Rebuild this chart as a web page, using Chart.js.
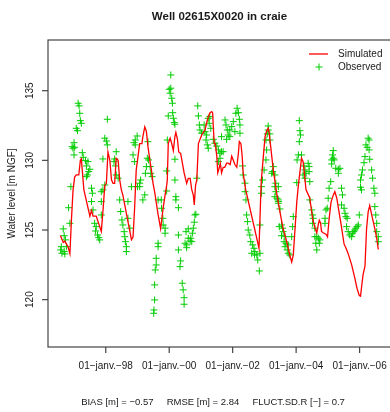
<!DOCTYPE html>
<html>
<head>
<meta charset="utf-8">
<title>Well 02615X0020 in craie</title>
<script src="https://cdn.jsdelivr.net/npm/chart.js@4.4.0/dist/chart.umd.min.js"></script>
<style>
    html, body { margin: 0; padding: 0; background: #fff; overflow: hidden; }
    canvas { display: block; }
</style>
</head>
<body>
<canvas id="well-chart" width="392" height="412"></canvas>
<script>
// Chart data (decimal years / water level in m NGF)

const chartTitle = 'Well 02615X0020 in craie';
const yAxisTitle = 'Water level [m NGF]';
const statsText = 'BIAS [m] = \u22120.57     RMSE [m] = 2.84     FLUCT.SD.R [\u2212] = 0.7';
const seriesNames = ['Simulated', 'Observed'];

const xTickValues = [1998, 2000, 2002, 2004, 2006];
const xTickLabels = ['01\u2212janv.\u221298', '01\u2212janv.\u221200', '01\u2212janv.\u221202', '01\u2212janv.\u221204', '01\u2212janv.\u221206'];
const yTickValues = [120, 125, 130, 135];
const xRange = [1996.18, 2006.99];
const yRange = [116.6, 138.64];

const simulated = [
    [1996.57, 124.6], [1996.66, 124.1], [1996.71, 124.2], [1996.76, 124.0], [1996.81, 123.8], [1996.87, 123.3],
    [1996.92, 125.8], [1996.97, 127.9], [1997.02, 128.8], [1997.07, 128.95], [1997.15, 128.95], [1997.20, 130.0],
    [1997.23, 130.1], [1997.26, 129.3], [1997.31, 127.9], [1997.50, 126.0], [1997.55, 126.4], [1997.60, 126.0],
    [1997.70, 126.0], [1997.86, 124.9], [1997.91, 126.3], [1997.97, 128.2], [1998.02, 128.35], [1998.07, 130.6],
    [1998.13, 130.0], [1998.18, 128.6], [1998.23, 128.35], [1998.28, 128.35], [1998.33, 130.15], [1998.39, 130.0],
    [1998.44, 128.6], [1998.49, 127.9], [1998.54, 127.5], [1998.70, 125.6], [1998.81, 124.3], [1998.86, 124.5],
    [1998.91, 126.6], [1998.96, 129.3], [1999.07, 131.2], [1999.14, 131.2], [1999.17, 131.7], [1999.23, 132.4],
    [1999.28, 132.1], [1999.33, 131.0], [1999.39, 130.0], [1999.44, 129.3], [1999.49, 128.35], [1999.54, 127.75],
    [1999.65, 126.1], [1999.73, 125.1], [1999.81, 126.6], [1999.87, 127.5], [1999.92, 128.2], [1999.94, 128.6],
    [1999.97, 131.2], [2000.03, 131.6], [2000.08, 131.2], [2000.13, 130.7], [2000.18, 131.7], [2000.21, 132.0],
    [2000.26, 131.5], [2000.30, 130.6], [2000.36, 130.5], [2000.40, 130.0], [2000.47, 129.1], [2000.55, 128.35],
    [2000.60, 128.7], [2000.66, 128.7], [2000.71, 127.9], [2000.76, 127.5], [2000.79, 126.8], [2000.83, 128.2],
    [2000.87, 128.6], [2000.92, 131.2], [2001.02, 131.8], [2001.13, 132.2], [2001.18, 132.7], [2001.23, 133.1],
    [2001.28, 133.4], [2001.34, 133.5], [2001.37, 133.4], [2001.39, 132.4], [2001.42, 131.2], [2001.45, 131.2],
    [2001.50, 130.3], [2001.53, 129.1], [2001.57, 129.4], [2001.61, 129.8], [2001.65, 129.1], [2001.70, 129.5],
    [2001.75, 129.5], [2001.81, 129.8], [2001.86, 129.8], [2001.92, 129.7], [2001.97, 130.3], [2002.02, 130.0],
    [2002.07, 129.7], [2002.13, 129.5], [2002.18, 130.5], [2002.21, 131.35], [2002.26, 131.2], [2002.30, 130.3],
    [2002.33, 129.1], [2002.41, 127.9], [2002.83, 123.7], [2002.90, 128.5], [2003.02, 131.7], [2003.07, 132.1],
    [2003.12, 132.3], [2003.15, 131.95], [2003.21, 130.75], [2003.28, 129.3], [2003.39, 127.6], [2003.49, 126.3],
    [2003.59, 125.1], [2003.70, 124.2], [2003.80, 123.2], [2003.86, 122.7], [2003.91, 123.2], [2003.96, 124.9],
    [2004.02, 127.0], [2004.07, 128.2], [2004.17, 130.15], [2004.22, 129.9], [2004.26, 129.1], [2004.31, 127.9],
    [2004.43, 127.3], [2004.52, 125.8], [2004.59, 125.2], [2004.65, 124.8], [2004.70, 125.4], [2004.73, 125.7],
    [2004.77, 125.5], [2004.80, 124.9], [2004.85, 124.8], [2004.94, 124.7], [2004.99, 124.5], [2005.04, 125.8],
    [2005.10, 127.0], [2005.17, 127.5], [2005.22, 127.75], [2005.28, 127.3], [2005.33, 126.6], [2005.43, 125.2],
    [2005.51, 124.0], [2005.59, 123.6], [2005.64, 123.3], [2005.75, 122.5], [2005.85, 121.55], [2005.92, 120.8],
    [2005.99, 120.3], [2006.03, 120.25], [2006.07, 121.05], [2006.11, 121.8], [2006.17, 122.4], [2006.22, 125.1],
    [2006.27, 126.3], [2006.32, 126.75], [2006.38, 126.1], [2006.43, 125.6], [2006.48, 125.1], [2006.54, 124.4],
    [2006.59, 123.6]
];

const observed = [
    // 1996-97
    [1996.90, 128.11], [1996.83, 126.60], [1996.87, 125.48], [1996.66, 125.08], [1996.69, 124.59], [1996.73, 124.29],
    [1996.60, 123.80], [1996.58, 123.57], [1996.69, 123.45], [1996.62, 123.33], [1996.76, 123.80], [1996.71, 123.28],
    [1997.13, 134.10], [1997.16, 133.91], [1997.18, 133.38], [1997.20, 132.85], [1997.23, 132.66], [1997.07, 132.30],
    [1997.11, 132.13], [1997.00, 131.27], [1996.94, 130.98], [1996.97, 130.87], [1997.02, 130.94], [1997.00, 130.39],
    [1997.26, 130.55], [1997.29, 130.22], [1997.36, 129.98], [1997.44, 129.91], [1997.39, 129.60], [1997.50, 129.36],
    [1997.46, 129.19], [1997.42, 128.95], [1997.39, 128.83], [1997.55, 128.00], [1997.58, 127.64], [1997.55, 127.04],
    [1997.60, 126.44], [1997.65, 125.48], [1997.70, 125.24], [1997.68, 124.93], [1997.74, 124.64], [1997.78, 124.45],
    [1997.81, 124.29], [1997.86, 127.04], [1997.86, 127.75], [1997.91, 127.88], [1997.86, 126.08],
    // 1998
    [1998.05, 132.95], [1997.97, 131.59], [1998.02, 131.39], [1998.05, 131.11], [1997.91, 130.10], [1998.28, 130.10],
    [1998.33, 130.62], [1998.26, 129.91], [1998.31, 129.60], [1998.33, 128.95], [1998.39, 128.72], [1997.97, 128.23],
    [1998.44, 127.16], [1998.47, 126.32], [1998.51, 125.72], [1998.54, 125.36], [1998.58, 124.88], [1998.60, 124.52],
    [1998.62, 124.16], [1998.65, 123.80], [1998.65, 123.45], [1998.70, 127.04], [1998.70, 125.84], [1998.76, 125.13],
    // 1999
    [1998.81, 128.11], [1998.99, 131.75], [1998.93, 131.46], [1998.89, 131.27], [1998.93, 131.11], [1999.33, 131.34],
    [1998.86, 130.39], [1998.91, 129.91], [1999.31, 130.15], [1999.35, 130.03], [1999.28, 129.55], [1999.40, 129.55],
    [1999.25, 129.07], [1999.42, 129.07], [1999.46, 128.83], [1999.10, 128.59], [1999.07, 128.36], [1999.00, 128.11],
    [1999.07, 128.11], [1999.17, 127.16], [1999.23, 127.52],
    [1999.65, 127.16], [1999.75, 127.16], [1999.76, 126.56], [1999.80, 125.84], [1999.81, 125.36], [1999.87, 125.13],
    [1999.87, 124.77], [1999.65, 124.05], [1999.65, 123.80], [1999.59, 122.97], [1999.59, 122.49], [1999.56, 122.13],
    [1999.54, 121.06], [1999.54, 119.98], [1999.52, 119.26], [1999.51, 119.02], [1999.92, 127.80],
    // 2000
    [2000.05, 136.13], [2000.00, 135.10], [2000.05, 135.18], [2000.03, 134.82], [2000.08, 134.46], [2000.10, 134.10],
    [2000.11, 133.42], [2000.13, 133.02], [2000.16, 132.71], [2000.18, 132.59], [1999.97, 133.19], [1999.94, 131.46],
    [2000.18, 130.08], [2000.18, 128.59], [1999.92, 129.24],
    [2000.21, 127.39], [2000.21, 127.16], [2000.29, 126.60], [2000.29, 124.64], [2000.29, 123.57], [2000.36, 122.78],
    [2000.34, 122.37], [2000.41, 121.18], [2000.44, 120.70], [2000.47, 120.14], [2000.47, 119.67],
    [2000.81, 126.08], [2000.84, 126.13], [2000.79, 125.56], [2000.76, 125.13], [2000.73, 124.77], [2000.68, 124.41],
    [2000.66, 124.21], [2000.60, 124.41], [2000.53, 124.88], [2000.60, 125.08], [2000.55, 123.93], [2000.50, 124.05],
    [2000.55, 123.73], [2000.71, 124.16],
    // 2001-02
    [2000.90, 133.91], [2000.92, 133.19], [2000.95, 132.54], [2000.97, 132.18], [2001.02, 131.95], [2001.10, 132.54],
    [2001.13, 132.06], [2001.18, 131.82], [2001.16, 131.46], [2001.23, 133.02], [2001.28, 133.14], [2001.26, 132.66],
    [2001.31, 132.30], [2001.20, 131.11], [2001.23, 130.87], [2001.39, 131.51], [2001.44, 131.23], [2001.50, 131.03],
    [2001.55, 130.75], [2001.60, 130.51], [2001.60, 130.15], [2001.65, 130.62], [2001.70, 130.62], [2001.55, 129.91],
    [2000.87, 128.72], [2001.76, 132.90], [2001.79, 132.54], [2001.83, 132.18], [2001.86, 131.82], [2001.91, 132.18],
    [2001.97, 132.42], [2001.91, 131.70], [2002.02, 132.78], [2002.07, 132.06], [2002.10, 133.38], [2002.14, 133.74],
    [2002.18, 133.42], [2002.21, 132.95], [2002.23, 132.54], [2002.23, 131.95], [2001.65, 131.70], [2001.81, 131.51],
    [2002.31, 129.60], [2002.33, 128.95], [2002.39, 128.36], [2002.39, 127.75], [2002.42, 127.16], [2002.44, 126.08],
    [2002.47, 125.60], [2002.49, 125.00], [2002.54, 124.64], [2002.57, 124.16], [2002.63, 123.93], [2002.67, 123.69],
    [2002.70, 123.45], [2002.76, 123.21], [2002.79, 122.85], [2002.84, 122.06], [2002.86, 125.36], [2002.86, 123.33],
    [2002.60, 123.33], [2002.69, 123.21],
    // 2003
    [2002.91, 128.11], [2002.91, 127.64], [2002.94, 128.59], [2002.99, 129.31], [2003.05, 130.03], [2003.07, 130.75],
    [2003.05, 131.46], [2003.09, 131.90], [2003.12, 132.18], [2003.12, 132.47], [2003.17, 131.90], [2003.17, 131.46],
    [2003.23, 129.07], [2003.28, 129.55], [2003.33, 128.95], [2003.36, 128.36], [2003.26, 129.19], [2003.33, 128.11],
    [2003.44, 128.11], [2003.36, 127.75], [2003.40, 127.28], [2003.44, 127.04],
    [2003.33, 127.39], [2003.44, 127.16], [2003.44, 126.92], [2003.49, 126.51], [2003.54, 125.36], [2003.57, 125.13],
    [2003.59, 124.88], [2003.54, 124.59], [2003.65, 124.52], [2003.62, 124.16], [2003.68, 124.05], [2003.65, 123.80],
    [2003.75, 123.93], [2003.72, 123.57], [2003.75, 123.33], [2003.80, 123.21], [2003.86, 124.52], [2003.89, 125.24],
    [2003.91, 125.96], [2003.47, 125.24],
    // 2004
    [2004.10, 132.85], [2004.12, 132.13], [2004.14, 131.82], [2004.10, 131.34], [2004.07, 130.39], [2004.17, 130.39],
    [2004.03, 130.03], [2004.02, 128.40], [2004.25, 129.60], [2004.28, 129.31], [2004.31, 129.07], [2004.22, 128.95],
    [2004.28, 128.72], [2004.38, 129.79], [2004.41, 129.55], [2004.41, 129.19], [2004.43, 128.47],
    [2004.43, 127.16], [2004.49, 126.44], [2004.52, 126.08], [2004.54, 125.84], [2004.52, 125.48], [2004.59, 125.13],
    [2004.59, 124.52], [2004.65, 124.52], [2004.70, 124.41], [2004.75, 124.29], [2004.73, 124.05], [2004.62, 124.05],
    [2004.65, 123.57],
    // 2005
    [2004.91, 125.48], [2004.91, 125.84], [2004.94, 126.44], [2004.98, 126.56], [2005.01, 127.28], [2005.04, 128.00],
    [2005.09, 128.47], [2005.17, 130.70], [2005.15, 130.39], [2005.17, 130.15], [2005.12, 130.03], [2005.20, 130.03],
    [2005.12, 129.74], [2005.25, 129.43], [2005.33, 129.36], [2005.38, 129.43], [2005.33, 129.07], [2005.43, 128.00],
    [2005.46, 127.52], [2005.43, 126.80], [2005.51, 126.56], [2005.54, 126.20], [2005.57, 125.96], [2005.61, 125.84],
    [2005.59, 125.24], [2005.64, 124.88], [2005.69, 124.64], [2005.75, 124.52], [2005.78, 124.77], [2005.82, 124.88],
    [2005.85, 125.00], [2005.88, 125.13], [2005.92, 125.24], [2005.96, 125.36], [2005.99, 126.08],
    // 2006
    [2006.27, 131.59], [2006.30, 131.46], [2006.20, 131.11], [2006.24, 130.94], [2006.30, 130.75], [2006.32, 130.08],
    [2006.17, 130.27], [2006.14, 129.83], [2006.09, 129.31], [2006.06, 128.95], [2006.03, 128.59], [2006.03, 128.07],
    [2006.38, 129.31], [2006.41, 128.72], [2006.45, 128.00], [2006.06, 127.88], [2006.48, 127.64], [2006.48, 126.68],
    [2006.51, 126.08], [2006.54, 125.48], [2006.54, 124.88], [2006.59, 124.52], [2006.59, 124.16]
];

const simColor = '#ff0000';
const obsColor = '#00cc00';
const inkColor = '#1a1a1a';
const fontFamily = '"Liberation Sans", Arial, Helvetica, sans-serif';

// R-like frame, axes, labels, legend
const rFramePlugin = {
    id: 'rFrame',
    afterDraw(chart) {
        const ctx = chart.ctx;
        const area = chart.chartArea;
        const xScale = chart.scales.x;
        const yScale = chart.scales.y;
        const midX = (area.left + area.right) / 2;

        ctx.save();

        // box
        ctx.strokeStyle = '#444';
        ctx.lineWidth = 1.2;
        ctx.strokeRect(area.left, area.top, area.right - area.left, area.bottom - area.top);

        // title
        ctx.fillStyle = inkColor;
        ctx.font = 'bold 11.5px ' + fontFamily;
        ctx.textAlign = 'center';
        ctx.textBaseline = 'middle';
        ctx.fillText(chartTitle, midX, 17);

        ctx.font = '10px ' + fontFamily;

        // x ticks + labels
        xTickValues.forEach((v, i) => {
            const px = xScale.getPixelForValue(v);
            ctx.beginPath();
            ctx.moveTo(px, area.bottom);
            ctx.lineTo(px, area.bottom + 6);
            ctx.stroke();
            ctx.fillText(xTickLabels[i], px, 366);
        });

        // y ticks + rotated labels
        yTickValues.forEach(v => {
            const py = yScale.getPixelForValue(v);
            ctx.beginPath();
            ctx.moveTo(area.left - 6, py);
            ctx.lineTo(area.left, py);
            ctx.stroke();
            ctx.save();
            ctx.translate(30, py);
            ctx.rotate(-Math.PI / 2);
            ctx.fillText(String(v), 0, 0);
            ctx.restore();
        });

        // y axis title
        ctx.save();
        ctx.translate(12, (area.top + area.bottom) / 2);
        ctx.rotate(-Math.PI / 2);
        ctx.fillText(yAxisTitle, 0, 0);
        ctx.restore();

        // stats line
        ctx.font = '9.5px ' + fontFamily;
        ctx.fillText(statsText, 213, 402);

        // legend
        ctx.font = '10px ' + fontFamily;
        ctx.textAlign = 'left';
        ctx.fillText(seriesNames[0], 338, 54);
        ctx.fillText(seriesNames[1], 338, 67);
        ctx.strokeStyle = simColor;
        ctx.lineWidth = 1.3;
        ctx.beginPath();
        ctx.moveTo(309, 54);
        ctx.lineTo(328, 54);
        ctx.stroke();
        ctx.strokeStyle = obsColor;
        ctx.lineWidth = 1;
        ctx.beginPath();
        ctx.moveTo(315.5, 67);
        ctx.lineTo(322.5, 67);
        ctx.moveTo(319, 63.5);
        ctx.lineTo(319, 70.5);
        ctx.stroke();

        ctx.restore();
    }
};

function toPoints(pairs) {
    return pairs.map(p => ({ x: p[0], y: p[1] }));
}

new Chart(document.getElementById('well-chart'), {
    type: 'scatter',
    data: {
        datasets: [
            {
                label: seriesNames[0],
                data: toPoints(simulated),
                showLine: true,
                borderColor: simColor,
                borderWidth: 1.3,
                pointRadius: 0,
                tension: 0
            },
            {
                label: seriesNames[1],
                data: toPoints(observed),
                pointStyle: 'cross',
                pointRadius: 3.5,
                pointBorderWidth: 1,
                borderColor: obsColor,
                backgroundColor: obsColor
            }
        ]
    },
    options: {
        responsive: false,
        animation: false,
        devicePixelRatio: 1,
        layout: {
            autoPadding: false,
            padding: { top: 40, right: 1, left: 0, bottom: 0 }
        },
        plugins: {
            legend: { display: false },
            tooltip: { enabled: false }
        },
        scales: {
            x: {
                type: 'linear',
                min: xRange[0],
                max: xRange[1],
                afterFit: scale => { scale.height = 65; },
                border: { display: false },
                grid: { display: false },
                ticks: { display: false }
            },
            y: {
                type: 'linear',
                min: yRange[0],
                max: yRange[1],
                afterFit: scale => { scale.width = 48; },
                border: { display: false },
                grid: { display: false },
                ticks: { display: false }
            }
        }
    },
    plugins: [rFramePlugin]
});
</script>
</body>
</html>
